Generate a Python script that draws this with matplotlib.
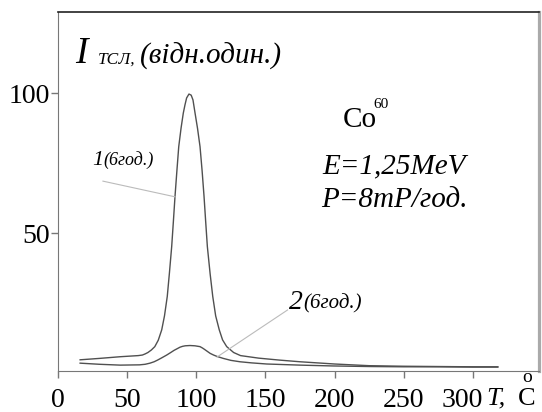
import matplotlib
matplotlib.use('Agg')
import matplotlib.pyplot as plt
import matplotlib.transforms as mtransforms

# temperature (C) and relative intensity
t1 = [16, 30, 45, 58, 61, 63, 65, 67.5, 70, 72.5, 75, 77, 79, 80.6, 82.2, 83.4,
      84.6, 86, 87.3, 89, 90.6, 91.8, 93, 94.7, 96.3, 97.6, 99.1, 100.9, 102.7,
      104.2, 105.6, 106.8, 108, 110, 111.9, 114, 116.6, 119, 122, 127, 132, 145,
      160, 175, 200, 225, 250, 275, 300, 318]
i1 = [4.8, 5.3, 5.9, 6.3, 6.5, 6.9, 7.4, 8.3, 9.5, 11.8, 15.5, 20.5, 27.4,
      36.0, 45.2, 54.0, 63.1, 72.5, 80.9, 87.6, 92.9, 95.8, 98.3, 99.7, 99.3,
      97.6, 92.9, 87.4, 80.9, 72.3, 63.1, 54.0, 45.2, 35.5, 27.4, 20.5, 15.5,
      11.9, 9.5, 7.4, 6.3, 5.4, 4.7, 4.1, 3.3, 2.7, 2.5, 2.4, 2.3, 2.3]

t2 = [16, 30, 45, 59, 63, 66.5, 69.5, 72, 75, 78.6, 81.5, 84, 86.3, 88.2, 90,
      92, 95.4, 99, 102.7, 104.5, 106, 108, 110, 112.5, 115, 119.5, 125, 131.6,
      140, 151, 175, 199, 225, 250, 275, 300, 318]
i2 = [3.6, 3.2, 2.9, 3.0, 3.2, 3.6, 4.1, 4.7, 5.5, 6.5, 7.4, 8.2, 8.8, 9.3,
      9.6, 9.8, 9.9, 9.8, 9.5, 9.0, 8.5, 7.8, 7.1, 6.5, 6.0, 5.3, 4.6, 4.1,
      3.7, 3.3, 2.9, 2.6, 2.4, 2.3, 2.3, 2.2, 2.2]

xticks = [0, 50, 100, 150, 200, 250, 300]
yticks = [50, 100]

plt.rcParams['font.family'] = ['Liberation Serif', 'DejaVu Serif']

fig = plt.figure(figsize=(5.42, 4.12), dpi=100)
ax = fig.add_axes([0.107, 0.0995, 0.8875, 0.8714])

ax.plot(t1, i1, color='#505050', lw=1.0)
ax.plot(t2, i2, color='#505050', lw=1.0)

# leader lines for the curve labels
ax.plot([32.5, 84.6], [68.6, 63.0], color='#bbbbbb', lw=0.8)
ax.plot([115, 166], [5.8, 22.6], color='#bbbbbb', lw=0.8)

ax.set_xlim(0, 347.8)
ax.set_ylim(0.8, 129)
ax.set_xticks(xticks)
ax.set_yticks(yticks)
ax.tick_params(axis='both', direction='out', length=5, width=1,
               colors='#777777', labelcolor='black', labelsize=20)
ax.tick_params(axis='x', pad=7)
ax.tick_params(axis='y', pad=1)

for s in ['left', 'bottom']:
    ax.spines[s].set_color('#777777')
ax.spines['top'].set_color('#222222')
ax.spines['top'].set_linewidth(1.2)
ax.spines['right'].set_color('#aaaaaa')
ax.spines['right'].set_linewidth(2.3)

# the "300" label sits a bit left of its tick in the original
lbl = ax.get_xticklabels()[-1]
lbl.set_transform(lbl.get_transform() +
                  mtransforms.ScaledTranslation(-0.11, 0, fig.dpi_scale_trans))

# axis title
ax.text(12.3, 110.7, 'I', fontsize=27, style='italic', va='baseline')
ax.text(28.9, 110.7, 'ТСЛ,', fontsize=12.5, style='italic', va='baseline')
ax.text(59.3, 110.7, '(відн.один.)', fontsize=21, style='italic', va='baseline')

# curve labels
ax.text(24.5, 74.4, '1', fontsize=16, style='italic', va='baseline')
ax.text(32.5, 74.4, '(6год.)', fontsize=13, style='italic', va='baseline')
ax.text(167.2, 23, '2', fontsize=20, style='italic', va='baseline')
ax.text(177, 23, '(6год.)', fontsize=15, style='italic', va='baseline')

# source info
ax.text(206, 88, 'Co', fontsize=21, va='baseline')
ax.text(228, 94.8, '60', fontsize=11, va='baseline')
ax.text(191, 71.4, 'E=1,25MeV', fontsize=21, style='italic', va='baseline')
ax.text(190.3, 59.4, 'P=8mP/год.', fontsize=21, style='italic', va='baseline')

# x axis label
ax.text(310, -11.2, 'T,', fontsize=19, style='italic', va='baseline', clip_on=False)
ax.text(332.6, -11.2, 'C', fontsize=19, va='baseline', clip_on=False)
ax.text(339, -1.5, 'o', fontsize=14, ha='center', va='center', clip_on=False)

fig.savefig('out.png', dpi=100)
